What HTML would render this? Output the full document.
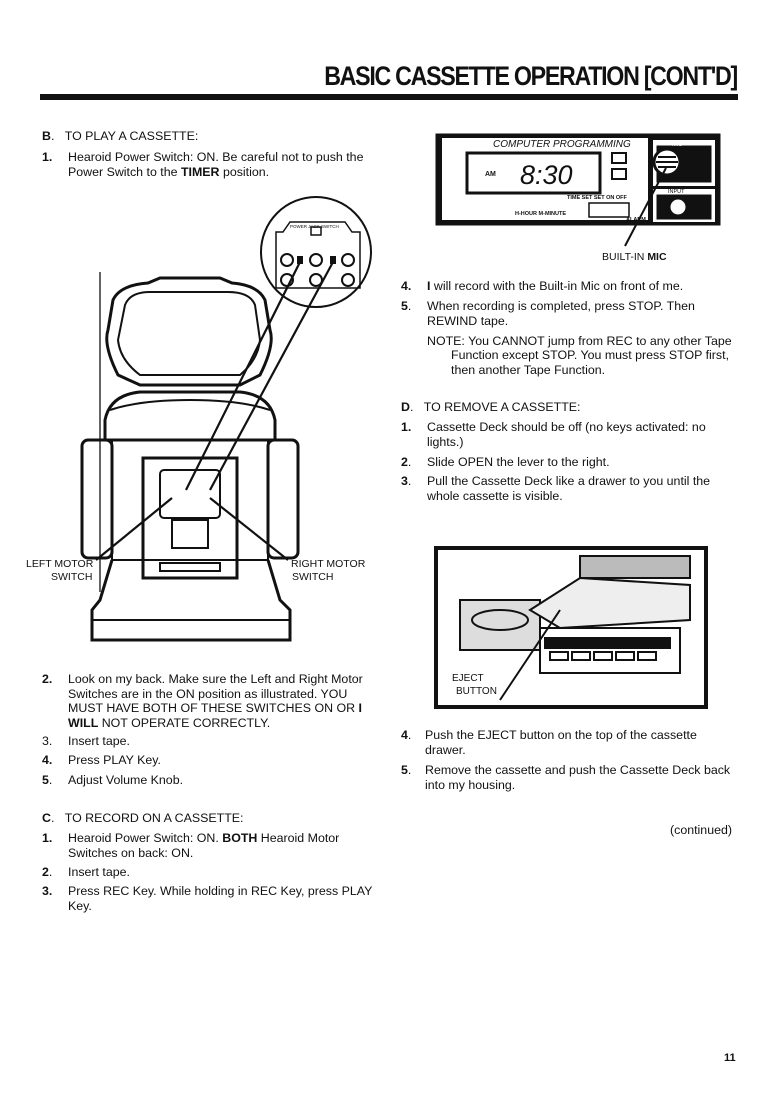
<!DOCTYPE html>
<html><head><meta charset="utf-8"><style>
body{margin:0;background:#fff;}
#p{position:relative;width:778px;height:1100px;overflow:hidden;font-family:"Liberation Sans",sans-serif;color:#111;font-size:12.4px;}
.t{position:absolute;white-space:nowrap;line-height:14.5px;}
h1{position:absolute;right:41px;top:61px;margin:0;font-size:27px;font-weight:bold;letter-spacing:-1.5px;transform:scaleX(.86);transform-origin:right;white-space:nowrap;}
b{font-weight:bold}
</style></head><body><div id="p">
<h1>BASIC CASSETTE OPERATION [CONT'D]</h1>
<div style="position:absolute;left:40px;top:94px;width:698px;height:6px;background:#111"></div>

<div class="t" style="left:42px;top:129px"><b>B</b>.&nbsp;&nbsp;&nbsp;TO PLAY A CASSETTE:</div>
<div class="t" style="left:42px;top:150px"><b>1.</b></div>
<div class="t" style="left:68px;top:150px">Hearoid Power Switch: ON. Be careful not to push the<br>Power Switch to the <b>TIMER</b> position.</div>

<div class="t" style="left:42px;top:672px"><b>2.</b></div>
<div class="t" style="left:68px;top:672px">Look on my back. Make sure the Left and Right Motor<br>Switches are in the ON position as illustrated. YOU<br>MUST HAVE BOTH OF THESE SWITCHES ON OR <b>I</b><br><b>WILL</b> NOT OPERATE CORRECTLY.</div>
<div class="t" style="left:42px;top:734px">3.</div><div class="t" style="left:68px;top:734px">Insert tape.</div>
<div class="t" style="left:42px;top:753px"><b>4.</b></div><div class="t" style="left:68px;top:753px">Press PLAY Key.</div>
<div class="t" style="left:42px;top:773px"><b>5</b>.</div><div class="t" style="left:68px;top:773px">Adjust Volume Knob.</div>
<div class="t" style="left:42px;top:811px"><b>C</b>.&nbsp;&nbsp;&nbsp;TO RECORD ON A CASSETTE:</div>
<div class="t" style="left:42px;top:831px"><b>1.</b></div><div class="t" style="left:68px;top:831px">Hearoid Power Switch: ON. <b>BOTH</b> Hearoid Motor<br>Switches on back: ON.</div>
<div class="t" style="left:42px;top:865px"><b>2</b>.</div><div class="t" style="left:68px;top:865px">Insert tape.</div>
<div class="t" style="left:42px;top:884px"><b>3.</b></div><div class="t" style="left:68px;top:884px">Press REC Key. While holding in REC Key, press PLAY<br>Key.</div>

<div class="t" style="left:401px;top:279px"><b>4.</b></div><div class="t" style="left:427px;top:279px"><b>I</b> will record with the Built-in Mic on front of me.</div>
<div class="t" style="left:401px;top:299px"><b>5</b>.</div><div class="t" style="left:427px;top:299px">When recording is completed, press STOP. Then<br>REWIND tape.</div>
<div class="t" style="left:427px;top:334px">NOTE: You CANNOT jump from REC to any other Tape</div>
<div class="t" style="left:451px;top:348px">Function except STOP. You must press STOP first,<br>then another Tape Function.</div>
<div class="t" style="left:401px;top:400px"><b>D</b>.&nbsp;&nbsp;&nbsp;TO REMOVE A CASSETTE:</div>
<div class="t" style="left:401px;top:420px"><b>1.</b></div><div class="t" style="left:427px;top:420px">Cassette Deck should be off (no keys activated: no<br>lights.)</div>
<div class="t" style="left:401px;top:455px"><b>2</b>.</div><div class="t" style="left:427px;top:455px">Slide OPEN the lever to the right.</div>
<div class="t" style="left:401px;top:474px"><b>3</b>.</div><div class="t" style="left:427px;top:474px">Pull the Cassette Deck like a drawer to you until the<br>whole cassette is visible.</div>
<div class="t" style="left:401px;top:728px"><b>4</b>.</div><div class="t" style="left:425px;top:728px">Push the EJECT button on the top of the cassette<br>drawer.</div>
<div class="t" style="left:401px;top:763px"><b>5</b>.</div><div class="t" style="left:425px;top:763px">Remove the cassette and push the Cassette Deck back<br>into my housing.</div>
<div class="t" style="left:670px;top:823px">(continued)</div>
<div class="t" style="left:724px;top:1051px;font-weight:bold;font-size:11px">11</div>

<svg style="position:absolute;left:0;top:0" width="778" height="1100">
<g fill="none" stroke="#111">
<rect x="436" y="134" width="284" height="91" fill="#111"/>
<rect x="442" y="138" width="206" height="82" fill="#fff" stroke="none"/>
<rect x="467" y="153" width="133" height="40" fill="#fff" stroke="#111" stroke-width="3"/>
<rect x="653" y="140" width="62" height="46" fill="#fff" stroke="none"/>
<rect x="657" y="146" width="54" height="36" fill="#111"/>
<circle cx="667" cy="162" r="13" fill="#fff" stroke="#111" stroke-width="3"/>
<line x1="658" y1="157" x2="676" y2="157" stroke-width="2"/><line x1="656" y1="162" x2="678" y2="162" stroke-width="2"/><line x1="658" y1="167" x2="676" y2="167" stroke-width="2"/>
<rect x="653" y="189" width="62" height="33" fill="#fff" stroke="none"/>
<rect x="657" y="195" width="54" height="24" fill="#111"/>
<circle cx="678" cy="207" r="9" fill="#fff" stroke="#111" stroke-width="3"/>
<rect x="612" y="153" width="14" height="10" fill="#fff" stroke="#111" stroke-width="2"/>
<rect x="612" y="169" width="14" height="10" fill="#fff" stroke="#111" stroke-width="2"/>
<rect x="589" y="203" width="40" height="14" fill="#fff" stroke="#111" stroke-width="1.5"/>
<line x1="666" y1="168" x2="625" y2="246" stroke-width="2"/>
</g>
<g font-family="Liberation Sans,sans-serif" fill="#111">
<text x="493" y="147" font-size="10" font-style="italic">COMPUTER PROGRAMMING</text>
<text x="485" y="176" font-size="7" font-weight="bold">AM</text>
<text x="520" y="184" font-size="27" font-style="italic">8:30</text>
<text x="567" y="199" font-size="5.5" font-weight="bold">TIME SET  SET  ON  OFF</text>
<text x="515" y="215" font-size="5.5" font-weight="bold">H-HOUR    M-MINUTE</text>
<text x="626" y="221" font-size="5.5" font-weight="bold">ALARM</text>
<text x="672" y="146" font-size="5.5" fill="#fff">MIC</text>
<text x="668" y="193" font-size="5.5">INPUT</text>
<text x="602" y="260" font-size="10.5">BUILT-IN <tspan font-weight="bold">MIC</tspan></text>
</g>

<rect x="436" y="548" width="270" height="159" fill="#fff" stroke="#111" stroke-width="4"/>
<g fill="none" stroke="#111" stroke-width="2">
<rect x="460" y="600" width="80" height="50" fill="#ddd"/>
<ellipse cx="500" cy="620" rx="28" ry="10"/>
<path d="M530 610 L580 578 L690 585 L690 620 L560 628 Z" fill="#eee"/>
<rect x="540" y="628" width="140" height="45" fill="#fff"/>
<rect x="545" y="638" width="125" height="10" fill="#111"/>
<rect x="550" y="652" width="18" height="8"/><rect x="572" y="652" width="18" height="8"/><rect x="594" y="652" width="18" height="8"/><rect x="616" y="652" width="18" height="8"/><rect x="638" y="652" width="18" height="8"/>
<rect x="580" y="556" width="110" height="22" fill="#bbb"/>
<path d="M500 700 L560 610"/>
</g>
<g font-family="Liberation Sans,sans-serif" fill="#111" font-size="10">
<text x="452" y="681">EJECT</text><text x="456" y="694">BUTTON</text></g>

<g fill="none" stroke="#111" stroke-width="2">
<line x1="100" y1="272" x2="100" y2="592" stroke-width="1.3"/>
<path d="M113 300 Q120 285 148 283 L160 278 L220 278 L232 283 Q258 285 265 300 L270 330 Q275 345 260 375 L240 385 L140 385 L118 375 Q103 345 108 330 Z" stroke-width="3"/>
<path d="M125 305 Q130 292 150 292 L228 292 Q250 292 255 305 L260 340 Q258 360 240 375 L140 375 Q120 360 118 340 Z"/>
<path d="M105 420 Q110 395 140 392 L240 392 Q270 395 275 420 L275 440 L105 440 Z" stroke-width="3" fill="#fff"/>
<path d="M110 410 Q140 400 190 400 Q240 400 270 410"/>
<path d="M112 440 L112 560 L268 560 L268 440"/>
<rect x="82" y="440" width="30" height="118" rx="6" stroke-width="3"/>
<rect x="268" y="440" width="30" height="118" rx="6" stroke-width="3"/>
<rect x="143" y="458" width="94" height="120" stroke-width="3"/>
<rect x="160" y="470" width="60" height="48" rx="4"/>
<rect x="172" y="520" width="36" height="28"/>
<rect x="160" y="563" width="60" height="8"/>
<path d="M112 560 L100 600 L92 610 L92 640 L290 640 L290 610 L280 600 L268 560" stroke-width="3"/>
<line x1="92" y1="620" x2="290" y2="620"/>
<circle cx="316" cy="252" r="55" fill="#fff"/>
<path d="M283 232 L290 222 L345 222 L352 232 L360 232 L360 288 L276 288 L276 232 Z" stroke-width="1.5"/>
<rect x="311" y="227" width="10" height="8" stroke-width="1.5"/>
<circle cx="287" cy="260" r="6"/><circle cx="316" cy="260" r="6"/><circle cx="348" cy="260" r="6"/>
<circle cx="287" cy="280" r="6"/><circle cx="316" cy="280" r="6"/><circle cx="348" cy="280" r="6"/>
<rect x="298" y="257" width="4" height="6" fill="#111"/><rect x="331" y="257" width="4" height="6" fill="#111"/>
<line x1="300" y1="262" x2="186" y2="490" stroke-width="2.2"/>
<line x1="333" y1="262" x2="210" y2="490" stroke-width="2.2"/>
<line x1="96" y1="560" x2="172" y2="498" stroke-width="2.2"/>
<line x1="288" y1="560" x2="210" y2="498" stroke-width="2.2"/>
</g>
<g font-family="Liberation Sans,sans-serif" fill="#111" font-size="10.5">
<text x="26" y="567">LEFT MOTOR</text><text x="51" y="580">SWITCH</text>
<text x="291" y="567">RIGHT MOTOR</text><text x="292" y="580">SWITCH</text>
<text x="290" y="228" font-size="4.5">POWER JACK SWITCH</text>
</g>
</svg>
</div></body></html>
